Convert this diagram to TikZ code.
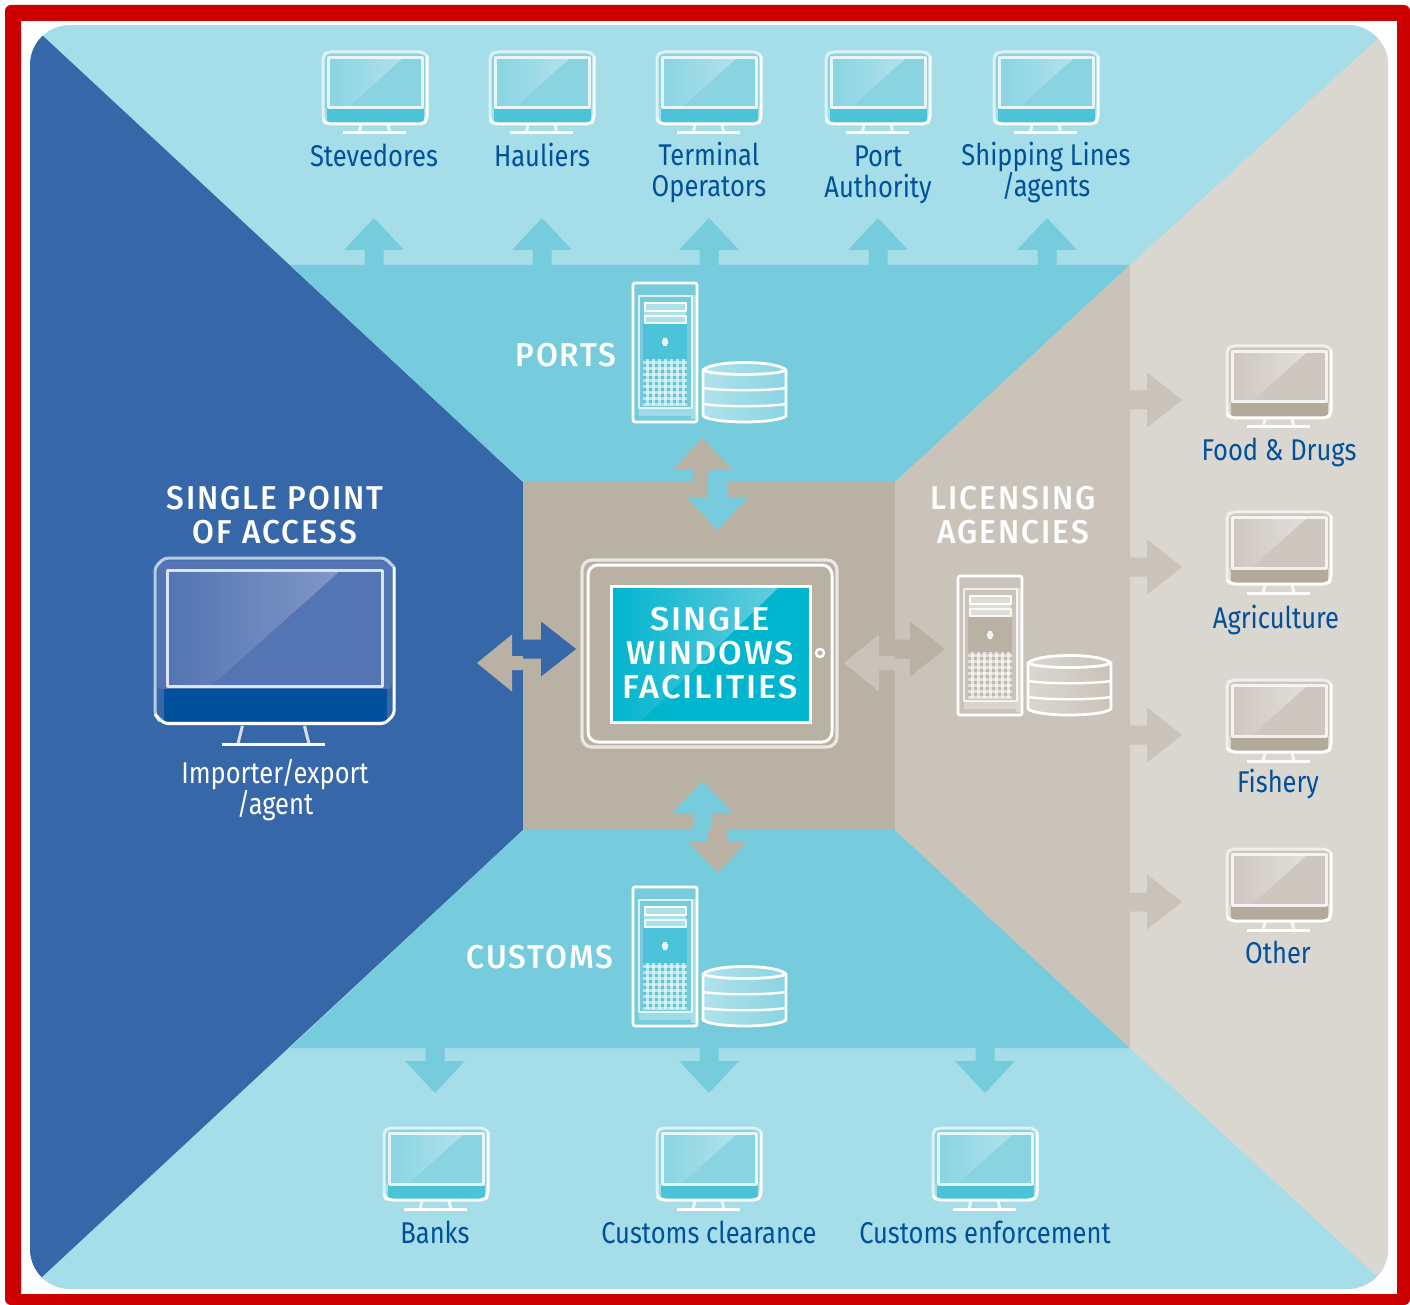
\documentclass[tikz,border=0pt]{standalone}
\usepackage{fontspec}
\setmainfont{Fira Sans}
\newfontfamily\lab[FakeStretch=0.85]{Fira Sans}
\newfontfamily\labb[FakeStretch=0.96,LetterSpace=6]{Fira Sans Medium}
\newfontfamily\labc[FakeStretch=1.04,LetterSpace=6]{Fira Sans Medium}
\usetikzlibrary{calc}
\definecolor{redb}{HTML}{CC0000}
\definecolor{lcy}{HTML}{A5DDE8}
\definecolor{mcy}{HTML}{76CCDD}
\definecolor{blu}{HTML}{3668A9}
\definecolor{dblu}{HTML}{00509B}
\definecolor{cbe}{HTML}{B9B1A4}
\definecolor{mbe}{HTML}{CAC3B9}
\definecolor{lbe}{HTML}{DAD6D0}
\definecolor{tealb}{HTML}{00B5CE}
\definecolor{scrC}{HTML}{8AD4E2}
\definecolor{scrCl}{HTML}{B0E2EC}
\definecolor{chinC}{HTML}{4CC3D8}
\definecolor{scrB}{HTML}{5375B3}
\definecolor{scrBl}{HTML}{8097C6}
\definecolor{chinB}{HTML}{00509B}
\definecolor{scrG}{HTML}{CDC7BF}
\definecolor{scrGl}{HTML}{E2DFDA}
\definecolor{chinG}{HTML}{B3AA9C}
\tikzset{
  lbl/.style={text=dblu,align=center,inner sep=0pt,font=\lab\fontsize{15}{15.6}\selectfont},
  ttl/.style={text=white,align=center,inner sep=0pt,font=\labb\fontsize{16.5}{17}\selectfont},
  ctr/.style={text=white,align=center,inner sep=0pt,font=\labc\fontsize{16.5}{17}\selectfont},
  wht/.style={text=white,align=center,inner sep=0pt,font=\lab\fontsize{15}{15.6}\selectfont},
  ln/.style={draw=white,line width=#1,line join=round},
}
% x,y,scale,line width,screen,light,chin,base inset
\newcommand\mon[8]{%
\begin{scope}[shift={(#1,#2)},scale=#3]
  \fill[#5,rounded corners=2pt] (1,1) rectangle (103,57);
  \shade[left color=#5,right color=#6] (6,6)--(80,6)--(24,56)--(6,56)--cycle;
  \fill[#7] (4,57) rectangle (101,71);
  \draw[ln=#4,opacity=.65,rounded corners=2pt] (2,71)--(0,68)--(0,4)--(4,0)--(100,0)--(104,4);
  \draw[ln=#4,rounded corners=2pt] (104,4)--(104,68)--(100,72)--(4,72)--(0,68);
  \draw[ln=#4,opacity=.8] (5.5,56)--(5.5,5.5)--(99,5.5)--(99,56)--cycle;
  \draw[ln=#4,opacity=.8] (38,73)--(36,81) (65,73)--(67,81);
  \draw[ln=#4] (#8,81)--(103-#8,81);
\end{scope}}
% x,y,block,disk light,disk dark
\newcommand\srv[5]{%
\begin{scope}[shift={(#1,#2)}]
  \fill[white,opacity=.35] (58,12) rectangle (64,136);
  \fill[white,opacity=.3] (6,125) rectangle (58,133);
  \draw[ln=1.4pt,rounded corners=1pt] (0,0) rectangle (64,139);
  \draw[ln=1.3pt,opacity=.75] (6,13) rectangle (59,125);
  \fill[#3] (10,41) rectangle (54,76);
  \fill[#3,opacity=.55] (10,76) rectangle (54,123);
  \foreach \gx in {13,19,...,49}{\fill[white,opacity=.6] (\gx,76) rectangle ++(3,46);}
  \foreach \gy in {78,84,...,120}{\fill[white,opacity=.55] (10,\gy) rectangle ++(44,3);}
  \fill[white,opacity=.4] (11,19) rectangle (53,41);
  \draw[ln=1.2pt] (12,20) rectangle (53,28);
  \draw[ln=1.2pt,opacity=.85] (12,33) rectangle (53,40);
  \fill[white,opacity=.85] (29,57) rectangle (35,61) (30,55) rectangle (34,63);
\end{scope}
\begin{scope}[shift={(#1+70,#2+79)}]
  \shade[left color=#4,right color=#5] (0,8) .. controls (10,-2) and (73,-2) .. (83,8) -- (83,54) .. controls (73,62) and (10,62) .. (0,54) --cycle;
  \draw[ln=1.4pt] (0,8) .. controls (10,-2) and (73,-2) .. (83,8) -- (83,54) .. controls (73,62) and (10,62) .. (0,54) --cycle;
  \draw[ln=1.4pt] (0,8) .. controls (10,14) and (73,14) .. (83,8);
  \draw[ln=1.2pt] (0,26) .. controls (20,29) and (63,29) .. (83,26);
  \draw[ln=1.2pt] (0,42) .. controls (20,45) and (63,45) .. (83,42);
\end{scope}}
\newcommand\aup[5]{\fill[#5] (#1,#2)--(#1+30,#2+32)--(#1+#4,#2+32)--(#1+#4,#3)--(#1-#4,#3)--(#1-#4,#2+32)--(#1-30,#2+32)--cycle;}
\newcommand\adn[5]{\fill[#5] (#1,#2)--(#1+30,#2-32)--(#1+#4,#2-32)--(#1+#4,#3)--(#1-#4,#3)--(#1-#4,#2-32)--(#1-30,#2-32)--cycle;}
\newcommand\art[5]{\fill[#5] (#1,#2)--(#1-35,#2-27.5)--(#1-35,#2-#4)--(#3,#2-#4)--(#3,#2+#4)--(#1-35,#2+#4)--(#1-35,#2+27.5)--cycle;}
\newcommand\alf[5]{\fill[#5] (#1,#2)--(#1+35,#2-28.5)--(#1+35,#2-#4)--(#3,#2-#4)--(#3,#2+#4)--(#1+35,#2+#4)--(#1+35,#2+28.5)--cycle;}
\begin{document}
\begin{tikzpicture}[x=0.5pt,y=-0.5pt]
\useasboundingbox (0,0) rectangle (1410,1305);
\fill[white] (0,0) rectangle (1410,1305);
\fill[redb,even odd rule] [rounded corners=3pt] (5,5) rectangle (1410,1305) [sharp corners] (21,21) rectangle (1397,1294);
\begin{scope}
  \clip[rounded corners=20pt] (30,25) rectangle (1388,1289);
  \fill[lcy] (30,25) rectangle (1388,1290);
  \fill[blu] (0,-4)--(523,482)--(523,830)--(0,1316)--cycle;
  \fill[lbe] (1420,0)--(1130,265)--(1130,1048)--(1420,1316)--cycle;
  \fill[mcy] (290,265)--(1130,265)--(895,482)--(523,482)--cycle;
  \fill[mcy] (523,830)--(895,830)--(1130,1048)--(290,1048)--cycle;
  \fill[mbe] (895,482)--(1130,265)--(1130,1048)--(895,830)--cycle;
  \fill[cbe] (523,482) rectangle (895,830);
\end{scope}
% top arrows
\foreach \ax in {374,542,709,878,1047}{\aup{\ax}{218}{265}{9.5}{mcy}}
\foreach \ax in {435,709,985}{\adn{\ax}{1093}{1048}{9.5}{mcy}}
\foreach \ay in {400,567,735,902}{\art{1182}{\ay}{1130}{9.5}{mbe}}
% double arrows
\aup{702.5}{438}{482}{9}{cbe}
\adn{717.5}{530}{472}{9.5}{mcy}
\aup{702.5}{781}{830}{9}{mcy}
\adn{717.5}{873}{830}{9.5}{cbe}
\alf{477}{663}{523}{7}{cbe}
\art{576}{649}{523}{9.5}{blu}
\alf{844}{663}{895}{7}{mbe}
\art{945}{649}{895}{9.5}{cbe}
% monitors
\foreach \mx in {323,490,657,826,994}{\mon{\mx}{52}{1}{1.5pt}{scrC}{scrCl}{chinC}{20}}
\foreach \mx in {384,657,933}{\mon{\mx}{1128}{1}{1.5pt}{scrC}{scrCl}{chinC}{20}}
\foreach \my in {346,512,680,849}{\mon{1227}{\my}{1}{1.5pt}{scrG}{scrGl}{chinG}{20}}
\mon{155}{558}{2.3}{1.5pt}{scrB}{scrBl}{chinB}{29}
% servers
\srv{633}{283}{chinC}{scrCl}{scrC}
\srv{633}{887}{chinC}{scrCl}{scrC}
\srv{958}{576}{cbe}{lbe}{mbe}
% central device
\draw[ln=1.6pt,opacity=.7,rounded corners=5pt] (582,560) rectangle (837,747);
\draw[ln=1.5pt,rounded corners=5pt] (588,565) rectangle (832,742);
\fill[tealb] (611,586) rectangle (810,722);
\shade[left color=tealb,middle color=tealb,right color=chinC!85!white] (611,586)--(780,586)--(640,722)--(611,722)--cycle;
\draw[white,line width=1.5pt] (611,586) rectangle (810,722);
\draw[white,line width=1.2pt] (820,653) circle (4);
% texts
\node[lbl] (t1) at (374,155) {Stevedores};
\node[lbl] (t2) at (542,155) {Hauliers};
\node[lbl] (t3) at (709,172.5) {Terminal\\Operators};
\node[lbl] (t4) at (878,175) {Port\\Authority};
\node[lbl] (t5) at (1046,172.5) {Shipping Lines\\/agents};
\node[lbl] (r1) at (1279,452) {Food \& Drugs};
\node[lbl] (r2) at (1276,620) {Agriculture};
\node[lbl] (r3) at (1278,784) {Fishery};
\node[lbl] (r4) at (1278,952) {Other};
\node[lbl] (b1) at (435,1232) {Banks};
\node[lbl] (b2) at (709,1232) {Customs clearance};
\node[lbl] (b3) at (985,1232) {Customs enforcement};
\node[wht] (imp) at (275,790) {Importer/export\\/agent};
\node[ttl] (ports) at (566,355) {PORTS};
\node[ttl] (cust) at (540,957) {CUSTOMS};
\node[ttl] (spa) at (275,515) {SINGLE POINT\\OF ACCESS};
\node[ttl] (lic) at (1013,515) {LICENSING\\AGENCIES};
\node[ctr] (swf) at (710,653) {SINGLE\\WINDOWS\\FACILITIES};
\end{tikzpicture}
\end{document}
